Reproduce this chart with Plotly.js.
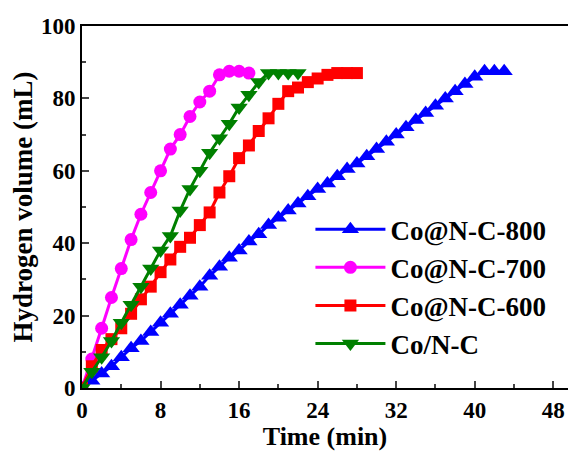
<!DOCTYPE html>
<html>
<head>
<meta charset="utf-8">
<script src="https://cdn.plot.ly/plotly-3.0.1.min.js"></script>
<style>html,body{margin:0;padding:0;background:#fff;}#chart{width:568px;height:451px;}</style>
</head>
<body>
<div id="chart"></div>
<script>
// Co@N-C-800
var t800 = [0,1,2,3,4,5,6,7,8,9,10,11,12,13,14,15,16,17,18,19,20,21,22,23,24,25,26,27,28,29,30,31,32,33,34,35,36,37,38,39,40,41,42,43];
var v800 = [0,2,4,6,8.5,11,13,15.5,18,20.5,23,25.5,28,31,33.5,36,38,40.5,42.5,45,47,49,51,53,55,56.5,58.5,60.5,62,64,66,68,70,72,74,76,78,80,82,84,86,87.5,87.5,87.5];
// Co@N-C-700
var t700 = [0,1,2,3,4,5,6,7,8,9,10,11,12,13,14,15,16,17];
var v700 = [0,8,16.5,25,33,41,48,54,60,66,70,75,79,82,86.5,87.5,87.5,87];
// Co@N-C-600
var t600 = [0,1,2,3,4,5,6,7,8,9,10,11,12,13,14,15,16,17,18,19,20,21,22,23,24,25,26,27,28];
var v600 = [0,6,10.5,13.5,16.5,20.5,24.5,28,32,35.5,39,41.5,45,48.5,54,58.5,63.5,67,71,74.5,78.5,82,83,84.5,85.5,86.5,87,87,87];
// Co/N-C
var tCoNC = [0,1,2,3,4,5,6,7,8,9,10,11,12,13,14,15,16,17,18,19,20,21,22];
var vCoNC = [0,4.5,8.5,13,18,23,28,33,38,42,49,55,60,65,69,73,77.5,81,84.5,87,87,87,87];

var names = ['Co@N-C-800','Co@N-C-700','Co@N-C-600','Co/N-C'];
var xTickVals = [0,8,16,24,32,40,48];
var yTickVals = [0,20,40,60,80,100];

var F = '"Liberation Serif", "Times New Roman", serif';
function tr(x, y, name, color, symbol, size) {
  return {x: x, y: y, name: name, type: 'scatter', mode: 'lines+markers',
    line: {color: color, width: 3},
    marker: {color: color, symbol: symbol, size: size}};
}
var data = [
  tr(t800, v800, names[0], '#0000FF', 'triangle-up', 15),
  tr(t700, v700, names[1], '#FF00FF', 'circle', 13),
  tr(t600, v600, names[2], '#FF0000', 'square', 12),
  tr(tCoNC, vCoNC, names[3], '#008000', 'triangle-down', 15)
];
var layout = {
  width: 568, height: 451,
  margin: {l: 82, r: 0, t: 26, b: 63},
  paper_bgcolor: '#fff', plot_bgcolor: '#fff',
  font: {family: F, color: '#000'},
  showlegend: true,
  legend: {x: 0.47, y: 0.505, xanchor: 'left', yanchor: 'top', bgcolor: 'rgba(0,0,0,0)',
    font: {family: F, size: 27, weight: 'bold', color: '#000'},
    itemwidth: 70, tracegroupgap: 0},
  xaxis: {range: [0, 49.5], tickvals: xTickVals, ticks: 'inside', ticklen: 7, tickwidth: 2,
    showline: true, linewidth: 2, linecolor: '#000', mirror: true, showgrid: false, zeroline: false,
    minor: {dtick: 4, ticks: 'inside', ticklen: 4, tickwidth: 2, showgrid: false},
    tickfont: {family: F, size: 23, weight: 'bold'},
    title: {text: 'Time (min)', font: {family: F, size: 26, weight: 'bold'}, standoff: 6}},
  yaxis: {range: [0, 100], tickvals: yTickVals, ticks: 'inside', ticklen: 7, tickwidth: 2,
    showline: true, linewidth: 2, linecolor: '#000', showgrid: false, zeroline: false,
    minor: {dtick: 10, ticks: 'inside', ticklen: 4, tickwidth: 2, showgrid: false},
    tickfont: {family: F, size: 23, weight: 'bold'},
    title: {text: 'Hydrogen volume (mL)', font: {family: F, size: 27, weight: 'bold'}, standoff: 0}}
};
Plotly.newPlot('chart', data, layout, {displayModeBar: false, staticPlot: true});
</script>
</body>
</html>
